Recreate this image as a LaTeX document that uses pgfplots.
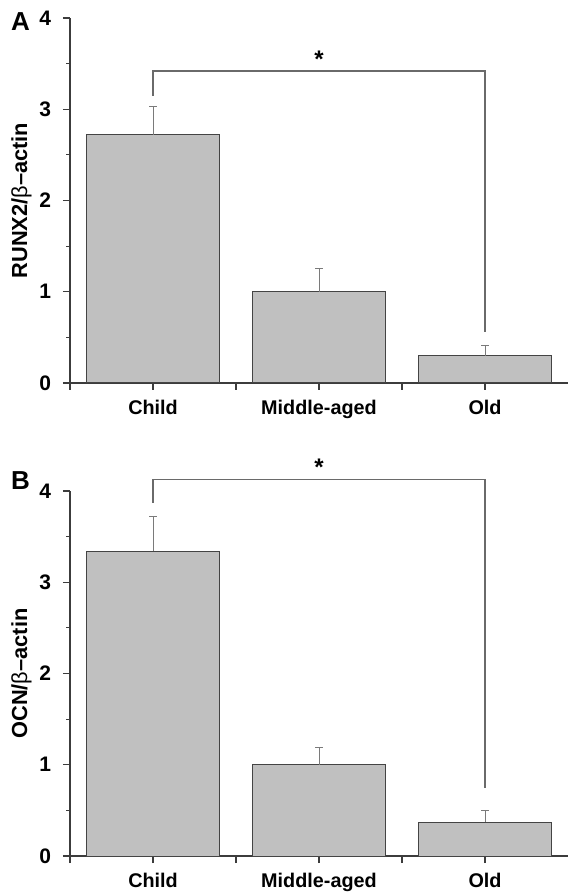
\documentclass[border=0pt]{standalone}
\usepackage{pgfplots}
\pgfplotsset{compat=1.18}
\usepackage{fontspec}
\setmainfont{Liberation Sans}
\definecolor{barfill}{HTML}{C0C0C0}
\definecolor{baredge}{HTML}{444444}
\definecolor{axcol}{HTML}{3C3C3C}
\definecolor{errcol}{HTML}{7A7A7A}
\definecolor{brcol}{HTML}{6A6A6A}
\pgfplotsset{
  panel/.style={
    width=249pt, height=182.5pt, scale only axis,
    xmin=-0.5, xmax=2.5, ymin=0, ymax=4,
    axis lines*=left,
    axis line style={axcol, line width=0.6pt},
    tick style={axcol, line width=0.6pt},
    tick align=outside,
    major tick length=3.5pt, minor tick length=2pt,
    xtick={-0.5,0,0.5,1,1.5,2},
    xticklabels={,Child,,Middle-aged,,Old},
    ytick={0,1,2,3,4}, minor ytick={0.5,1.5,2.5,3.5},
    /pgf/number format/assume math mode=true,
    yticklabel style={font=\bfseries\fontsize{10.5}{12}\selectfont, xshift=-2.5pt},
    xticklabel style={font=\bfseries\fontsize{9.9}{12}\selectfont, yshift=-1.5pt},
    ylabel style={font=\bfseries\fontsize{10.9}{12}\selectfont,
      at={(axis description cs:-0.086,0.5)}, anchor=base},
    clip=false,
  },
  bars/.style={ybar, bar width=0.8, fill=barfill, draw=baredge, line width=0.5pt,
    error bars/.cd, y dir=plus, y explicit,
    error bar style={errcol, line width=0.5pt},
    error mark options={errcol, rotate=90, mark size=1.8pt, line width=0.5pt}},
}
\begin{document}
\begin{tikzpicture}
\begin{axis}[panel, at={(0,0)}, anchor=south west,
  ylabel={RUNX2/{\mdseries β}–actin}]
\addplot[bars] coordinates {(0,2.72) +- (0,0.31) (1,1.00) +- (0,0.26) (2,0.30) +- (0,0.11)};
\addplot[brcol, line width=0.6pt, mark=none, sharp plot] coordinates {(0,3.15) (0,3.42) (2,3.42) (2,0.56)};
\node[font=\bfseries\fontsize{12}{12}\selectfont, anchor=base] at (axis cs:1,3.46) {*};
\node[font=\bfseries\fontsize{13}{13}\selectfont] at (rel axis cs:-0.0994,0.989) {A};
\end{axis}
\begin{axis}[panel, at={(0,-236.5pt)}, anchor=south west,
  ylabel={OCN/{\mdseries β}–actin}]
\addplot[bars] coordinates {(0,3.34) +- (0,0.38) (1,1.00) +- (0,0.19) (2,0.37) +- (0,0.13)};
\addplot[brcol, line width=0.6pt, mark=none, sharp plot] coordinates {(0,3.87) (0,4.13) (2,4.13) (2,0.74)};
\node[font=\bfseries\fontsize{12}{12}\selectfont, anchor=base] at (axis cs:1,4.17) {*};
\node[font=\bfseries\fontsize{13}{13}\selectfont] at (rel axis cs:-0.0994,1.030) {B};
\end{axis}
\pgfresetboundingbox
\path[use as bounding box] (-35pt,-254.5pt) rectangle (249pt,191.5pt);
\end{tikzpicture}
\end{document}
